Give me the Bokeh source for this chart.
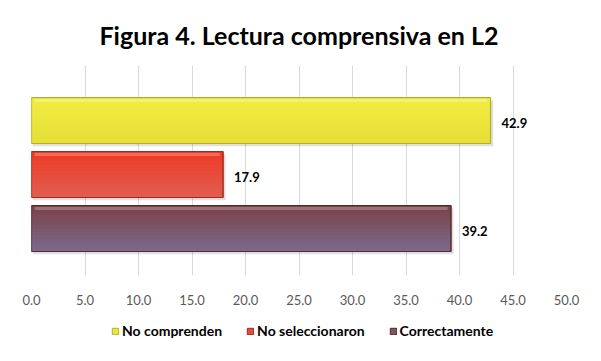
from bokeh.plotting import figure
from bokeh.layouts import column
from bokeh.models import Legend, LegendItem, Range1d, FixedTicker, PrintfTickFormatter, ColumnDataSource, Title
from bokeh.embed import file_html
from bokeh.resources import INLINE
from bokeh.core.properties import value

# ---- data ----
title_text = "Figura 4. Lectura comprensiva en L2"
categories = ["Correctamente", "No seleccionaron", "No comprenden"]  # bottom -> top
values = [39.2, 17.9, 42.9]
value_labels = ["39.2", "17.9", "42.9"]
x_ticks = [0, 5, 10, 15, 20, 25, 30, 35, 40, 45, 50]
legend_order = ["No comprenden", "No seleccionaron", "Correctamente"]

# ---- styles ----
top_colors = {"No comprenden": (0xF2, 0xEC, 0x42), "No seleccionaron": (0xEE, 0x3A, 0x24), "Correctamente": (0x7B, 0x40, 0x46)}
bot_colors = {"No comprenden": (0xE6, 0xDF, 0x38), "No seleccionaron": (0xE0, 0x5E, 0x52), "Correctamente": (0x7A, 0x6C, 0x8E)}
edge_colors = {"No comprenden": "#B5AE2A", "No seleccionaron": "#9E2B1C", "Correctamente": "#5A2528"}
FONT = "Lato"
BAR_H = 0.85
N = 14

p = figure(width=585, height=310, output_backend="svg", toolbar_location=None, title=None,
           x_range=Range1d(0, 50), y_range=Range1d(-0.87, 3.02),
           min_border_left=31, min_border_right=19, min_border_top=65, min_border_bottom=35)

# spacer (closest to the frame) then the visible title above it
p.add_layout(Title(text=" ", text_font_size="8px", standoff=0), "above")
p.add_layout(Title(text=title_text, align="center", text_font=FONT, text_font_size="25px",
                   text_font_style="bold", text_color="#000000"), "above")

p.outline_line_color = None
p.ygrid.visible = False
p.yaxis.visible = False
p.xgrid.grid_line_color = "#D9D9D9"
p.xgrid.grid_line_width = 1
p.xaxis.ticker = FixedTicker(ticks=x_ticks)
p.xaxis.formatter = PrintfTickFormatter(format="%.1f")
p.xaxis.axis_line_color = None
p.xaxis.major_tick_line_color = None
p.xaxis.minor_tick_line_color = None
p.xaxis.major_label_text_font = FONT
p.xaxis.major_label_text_font_size = "13px"
p.xaxis.major_label_text_color = "#595959"
p.xaxis.major_label_standoff = 13


def mix(a, b, t):
    return "#%02x%02x%02x" % tuple(int(round(a[i] + (b[i] - a[i]) * t)) for i in range(3))


yidx = list(range(len(categories)))

# shadows
p.hbar(y=[y - 0.05 for y in yidx], left=[0.1] * len(values), right=[v + 0.25 for v in values], height=BAR_H,
       fill_color="#000000", fill_alpha=0.12, line_color=None)

for i, cat in enumerate(categories):
    v = values[i]
    p.hbar(y=[i], left=[0], right=[v], height=BAR_H,
           fill_color=mix(top_colors[cat], bot_colors[cat], 0.5),
           line_color=edge_colors[cat], line_width=1)
    for k in range(N):
        t = (k + 0.5) / N
        yc = i + BAR_H / 2 - (k + 0.5) * BAR_H / N
        p.hbar(y=[yc], left=[0], right=[v], height=BAR_H / N * 1.04,
               fill_color=mix(top_colors[cat], bot_colors[cat], t), line_color=None)
    # top highlight
    p.hbar(y=[i + BAR_H / 2 - 0.05], left=[0.3], right=[v - 0.3], height=0.06,
           fill_color="#ffffff", fill_alpha=0.25, line_color=None)
    # outline
    p.hbar(y=[i], left=[0], right=[v], height=BAR_H, fill_alpha=0,
           line_color=edge_colors[cat], line_width=1.2)

src = ColumnDataSource(dict(x=values, y=yidx, t=value_labels))
p.text(x="x", y="y", text="t", source=src, x_offset=11, y_offset=2, text_baseline="middle", text_align="left",
       text_font=value(FONT), text_font_size="13px", text_font_style="bold", text_color="#000000")

# ---- legend strip ----
lg = figure(width=585, height=35, output_backend="svg", toolbar_location=None,
            x_range=Range1d(0, 1), y_range=Range1d(0, 1),
            min_border_left=0, min_border_right=0, min_border_top=0, min_border_bottom=0)
lg.axis.visible = False
lg.grid.visible = False
lg.outline_line_color = None

legend_renderers = {}
for i, cat in enumerate(categories):
    r = lg.hbar(y=[i], left=[0], right=[values[i]], height=0.5,
                fill_color=mix(top_colors[cat], bot_colors[cat], 0.5),
                line_color=edge_colors[cat], line_width=1)
    r.visible = False
    legend_renderers[cat] = r

legend = Legend(items=[LegendItem(label=c, renderers=[legend_renderers[c]]) for c in legend_order],
                orientation="horizontal", location=(80, 6),
                label_text_font=FONT, label_text_font_size="14px", label_text_font_style="bold",
                label_text_color="#000000", glyph_width=8, glyph_height=8, label_standoff=3,
                spacing=24, padding=0, margin=0, border_line_color=None, background_fill_alpha=0)
lg.add_layout(legend)

layout = column(p, lg, spacing=0)
open("out.html", "w").write(file_html(layout, INLINE))
